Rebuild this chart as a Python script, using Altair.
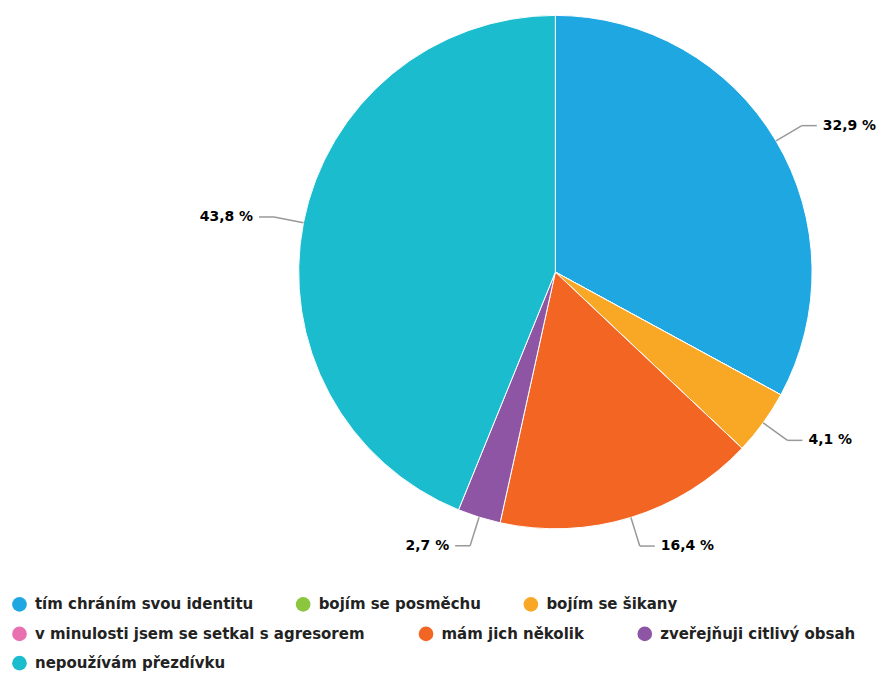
import altair as alt
import pandas as pd

categories = [
    "tím chráním svou identitu",
    "bojím se posměchu",
    "bojím se šikany",
    "v minulosti jsem se setkal s agresorem",
    "mám jich několik",
    "zveřejňuji citlivý obsah",
    "nepoužívám přezdívku",
]
values = [32.9, 0, 4.1, 0, 16.4, 2.7, 43.8]
colors = ["#1fa7e1", "#8cc63f", "#f9a825", "#e86fb0", "#f26522", "#8e55a4", "#1cbccf"]

# legend rows (indices into categories), as wrapped in the original
legend_rows = [[0, 1, 2], [3, 4, 5], [6]]
row_padding = [42, 53, 40]

df = pd.DataFrame({"cat": categories, "value": values, "idx": list(range(len(categories)))})

CX, CY, R = 548, 264, 257
W, H = 869, 528
L = 30

xs = alt.Scale(domain=[0, W], nice=False, zero=False)
ys = alt.Scale(domain=[0, H], nice=False, zero=False, reverse=True)

base = alt.Chart(df)

pie = base.mark_arc(radius=R, stroke="white", strokeWidth=1).encode(
    theta=alt.Theta("value:Q", stack=True),
    order=alt.Order("idx:Q"),
    color=alt.Color("cat:N", scale=alt.Scale(domain=categories, range=colors), legend=None),
    x=alt.value(CX),
    y=alt.value(CY),
)

lab = (
    base.transform_window(cum="sum(value)", sort=[alt.SortField("idx")], frame=[None, 0])
    .transform_joinaggregate(total="sum(value)")
    .transform_filter("datum.value > 0")
    .transform_calculate(
        a="2*PI*(datum.cum - datum.value/2)/datum.total",
    )
    .transform_calculate(s="sin(datum.a)", c="cos(datum.a)")
    .transform_calculate(
        ex=f"{CX}+{R}*datum.s",
        ey=f"{CY}-{R}*datum.c",
        bx=f"{CX}+{R + L}*datum.s",
        by=f"{CY}-{R + L}*datum.c",
        side="datum.s >= 0 ? 1 : -1",
    )
    .transform_calculate(
        hx="datum.bx + 15*datum.side",
        hy="datum.by",
    )
    .transform_calculate(
        tx="datum.hx + 6*datum.side",
        label="replace(format(datum.value, '.1f'), '.', ',') + ' %'",
    )
)

rule1 = lab.mark_rule(color="#999999", strokeWidth=1.5).encode(
    x=alt.X("ex:Q", scale=xs, axis=None),
    y=alt.Y("ey:Q", scale=ys, axis=None),
    x2="bx:Q",
    y2="by:Q",
)
rule2 = lab.mark_rule(color="#999999", strokeWidth=1.5).encode(
    x=alt.X("bx:Q", scale=xs, axis=None),
    y=alt.Y("by:Q", scale=ys, axis=None),
    x2="hx:Q",
    y2="hy:Q",
)

txt_r = lab.transform_filter("datum.side > 0").mark_text(
    align="left", baseline="middle", font="DejaVu Sans", fontSize=14, fontWeight="bold", color="#000000"
).encode(
    x=alt.X("tx:Q", scale=xs, axis=None),
    y=alt.Y("hy:Q", scale=ys, axis=None),
    text="label:N",
)
txt_l = lab.transform_filter("datum.side < 0").mark_text(
    align="right", baseline="middle", font="DejaVu Sans", fontSize=14, fontWeight="bold", color="#000000"
).encode(
    x=alt.X("tx:Q", scale=xs, axis=None),
    y=alt.Y("hy:Q", scale=ys, axis=None),
    text="label:N",
)

legend_layers = []
for i, row in enumerate(legend_rows):
    cats = [categories[j] for j in row]
    cols = [colors[j] for j in row]
    legend_layers.append(
        base.transform_filter("false")
        .mark_circle()
        .encode(
            x=alt.value(0),
            y=alt.value(0),
            color=alt.Color(
                "cat:N",
                scale=alt.Scale(domain=cats, range=cols),
                legend=alt.Legend(
                    title=None,
                    orient="none",
                    direction="horizontal",
                    legendX=4,
                    legendY=589 + 29.5 * i,
                    columns=len(cats),
                    columnPadding=row_padding[i],
                    symbolType="circle",
                    symbolSize=215,
                    symbolStrokeWidth=0,
                    symbolOpacity=1,
                    labelFontSize=15,
                    labelFont="DejaVu Sans",
                    labelFontWeight="bold",
                    labelColor="#222222",
                    labelLimit=600,
                    labelOffset=8,
                ),
            ),
        )
    )

chart = (
    alt.layer(pie, rule1, rule2, txt_r, txt_l, *legend_layers)
    .resolve_scale(color="independent")
    .properties(width=W, height=H, padding=0, background="white")
    .configure_view(stroke=None)
)

chart.save("out.html", embed_options={"renderer": "svg", "actions": False})
